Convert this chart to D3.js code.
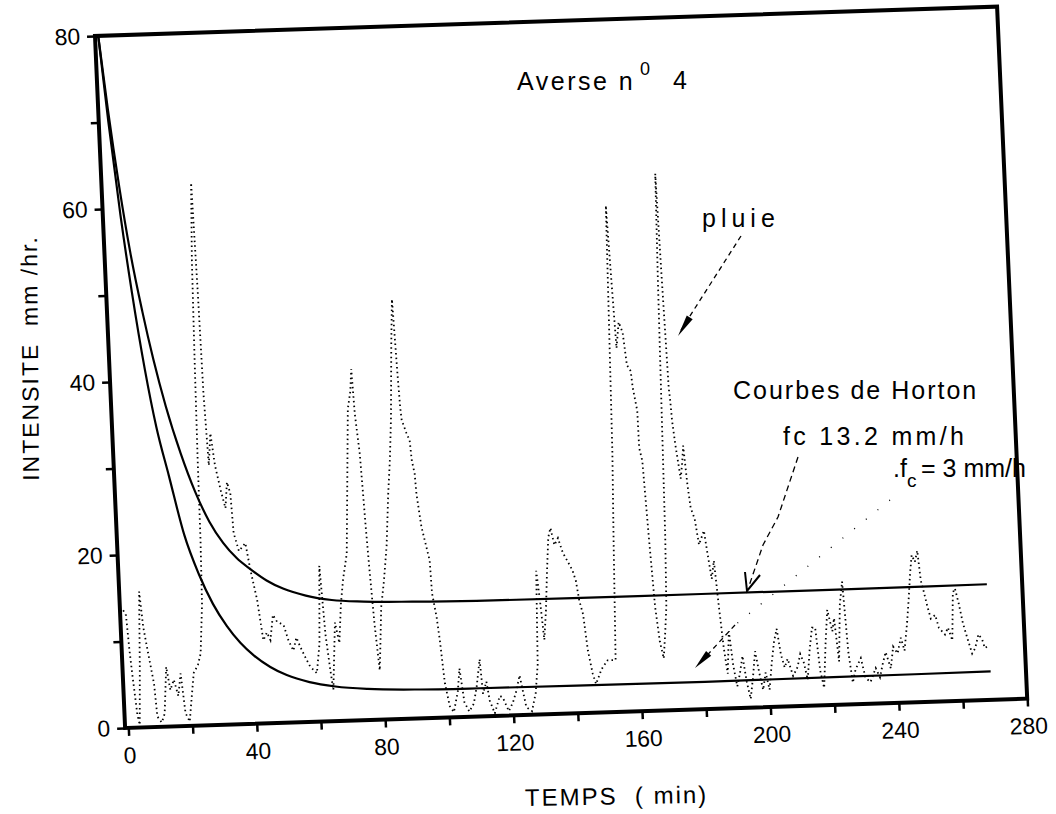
<!DOCTYPE html>
<html><head><meta charset="utf-8">
<script src="https://cdn.jsdelivr.net/npm/d3@7"></script>
<style>
html,body{margin:0;padding:0;background:#fff;}
svg{display:block;}
text{font-family:"Liberation Sans",Arial,sans-serif;fill:#000;}
</style></head><body>
<svg id="chart" width="1056" height="814"></svg>
<script>
// ---------- data ----------
const xTickValues = [0,20,40,60,80,100,120,140,160,180,200,220,240,260,280];
const xTickLabels = [0,40,80,120,160,200,240,280];
const yTickValues = [0,10,20,30,40,50,60,70,80];
const yTickLabels = [0,20,40,60,80];

// Horton infiltration curves (min, mm/h)
const hortonT     = [0,2,4.5,7,10,12.8,16,20,24,28,32,36,40,45,50,57,65,75,90,110,140,180,220,269];
const hortonUpper = [80,71.5,62.5,55,48,42.4,37,31.5,27,23.5,21,19.2,17.9,16.5,15.5,14.6,14.0,13.7,13.5,13.35,13.3,13.3,13.3,13.35];
const hortonLower = [80,70,59.2,50.3,41.3,34.6,29,22.1,17.5,14,11.4,9.4,7.9,6.5,5.5,4.6,4.0,3.6,3.35,3.25,3.2,3.15,3.2,3.27];

// rainfall intensity "pluie" (min, mm/h)
const rainT = [0,0.8,1.4,2.0,3.0,3.6,4.4,5.2,6.0,7.0,8.6,9.2,10.5,11.5,12.6,13.6,14.8,16.0,17.0,18.0,19.2,20.2,21.1,22.5,23.5,24.6,25.0,25.2,25.6,26.1,26.9,27.5,27.9,28.6,29.5,30.5,32.0,33.2,34.0,34.9,35.4,36.8,38.9,40.1,41.8,43.2,44.4,45.4,46.5,47.7,49.7,51.0,52.4,53.5,54.6,56.0,57.4,59.4,60.6,61.6,62.6,63.6,64.3,65.7,66.8,67.8,68.8,70.3,71.5,72.6,73.6,74.2,74.7,75.7,76.2,76.6,77.2,78.0,79.0,79.6,80.3,81.5,82.8,84.0,85.0,85.9,87.0,87.8,88.5,88.9,89.2,90.5,91.4,91.8,92.5,92.8,93.9,95.2,96.0,96.3,97.4,98.1,98.7,99.1,100.3,101.5,103.0,103.8,104.9,106.3,107.8,108.9,110.2,110.8,112.0,112.8,114.2,116.0,116.9,118.6,120.0,121.2,122.4,124.1,125.8,127.2,128.2,128.6,129.0,129.8,130.6,131.5,132.3,133.2,134.0,135.0,136.2,137.5,139.0,140.3,141.2,142.0,143.0,144.0,145.2,146.1,148.0,150.0,152.5,153.5,154.3,155.0,155.6,156.3,157.0,158.0,159.1,160.0,161.1,161.5,162.6,162.7,163.5,164.5,165.5,166.5,167.5,168.3,169.0,169.6,170.2,170.8,171.4,172.0,172.7,173.0,173.3,174.0,175.2,175.9,176.4,177.2,177.9,179.0,180.0,181.7,182.5,183.5,184.4,185.3,186.3,187.2,188.1,189.0,190.0,191.0,192.0,193.0,194.0,195.0,196.0,197.0,198.0,199.0,200.0,201.0,202.0,203.0,204.0,205.0,206.0,207.5,209.0,210.0,211.0,212.0,213.0,214.0,215.0,216.0,217.0,218.0,219.0,220.3,221.0,222.0,223.0,224.0,225.0,226.0,227.0,228.8,230.0,231.5,233.3,234.5,235.5,236.6,238.0,239.0,240.3,241.5,242.5,243.7,244.5,245.3,246.0,246.9,247.8,248.5,249.3,250.2,251.1,252.5,253.5,255.3,256.3,257.5,258.3,259.0,260.0,261.0,262.0,263.5,264.5,265.7,266.8,267.5,268.5];
const rainV = [13.6,13,9,6,1.5,0.3,7,15.7,11.6,9,5,1.2,0.5,1.5,6.9,4.2,5.4,3.5,6.1,1.5,0.5,3.5,6.1,7.0,8.3,14,21.4,30.7,42.2,53.8,62.7,50,38.3,30,33.7,30,27,25,28,26.7,22.1,20,20.9,17.8,14.3,9.6,10.5,9.6,12.5,11.7,11.3,9.5,8.3,9.8,8.7,7.5,6.4,5.6,9,18,10,6,3.6,11.4,9,13.5,16.3,19.3,28,36,38,40.6,35.4,30.8,26,22,17,11,5.7,9,13,16,20,26,30,34.8,43.4,48.5,40,36,34.5,33,32.1,29.8,28.3,25.9,22.1,19.7,18.2,14.4,11.6,8.9,5.8,3.9,1.3,0.6,3,5.6,1.7,0.6,1.5,3.4,6.6,2.6,4,1.8,0.3,2.3,2.1,0.5,1.5,2.8,4.6,0.9,0.4,2.5,5.8,11.2,16.6,13,8.6,12,16.2,20.4,21.5,19.5,20.3,18.6,17.5,16.5,15.3,13,11.4,7.2,4.5,3.3,5,6,6,20,30,45,58.5,50,42,45,43.8,40,39.3,37.4,34.7,30.4,28.9,20,12,8,6,9,12,20,35,50,62,50,37.2,35.7,33.4,30.6,26.7,28.6,30.5,26,23.3,22,19,20.6,18,15,17.1,12,7,4,8.9,5,2.5,4,6,3,1,3.5,6.5,4,2,4,2,5,7.5,9,6,4.5,5.5,3.5,4.5,6,5,3,6.5,9,9,4,2,7,11,8.5,10,5,11.6,14.2,6,2.5,4,5.3,3,2.5,4.1,3,4.5,5.9,4,6.5,5.7,7.5,6,9.3,12,15,17,16.2,17.5,14,12.7,11,9.6,10,8.5,7.7,8.5,7,12.5,13,11.2,9,7.5,5.4,6,7.6,7,6,6.2];

// ---------- layout ----------
const W = 904.8, H = 692;
const FONT = '"Liberation Sans", Arial, sans-serif';
const x = d3.scaleLinear().domain([-1, 280]).range([0, W]);
const y = d3.scaleLinear().domain([0, 80]).range([H, 0]);

const svg = d3.select('#chart');
svg.append('rect').attr('width', 1056).attr('height', 814).attr('fill', '#fff');

// the scanned figure is slightly rotated: map plot coords through an affine matrix
const g = svg.append('g').attr('transform', 'matrix(0.997,-0.0325,0.0435,1,95,36)');

// axes
const xAxis = d3.axisBottom(x).tickValues(xTickValues).tickSize(8).tickPadding(11)
  .tickFormat(d => xTickLabels.includes(d) ? d : '');
g.append('g').attr('transform', `translate(0,${H})`).call(xAxis)
  .call(s => s.select('.domain').remove())
  .call(s => s.selectAll('line').attr('stroke', '#000').attr('stroke-width', 2.5))
  .call(s => s.selectAll('text').attr('font-size', 23).attr('font-family', FONT).attr('fill', '#000'));

const yAxis = d3.axisLeft(y).tickValues(yTickValues).tickSize(8).tickPadding(7)
  .tickFormat(d => yTickLabels.includes(d) ? d : '');
g.append('g').call(yAxis)
  .call(s => s.select('.domain').remove())
  .call(s => s.selectAll('line').attr('stroke', '#000').attr('stroke-width', 2.5))
  .call(s => s.selectAll('text').attr('font-size', 23).attr('font-family', FONT).attr('fill', '#000'));

// frame
g.append('rect').attr('x', 0).attr('y', 0).attr('width', W).attr('height', H)
  .attr('fill', 'none').attr('stroke', '#000').attr('stroke-width', 4);

// rain
const rainLine = d3.line().x((d, i) => x(rainT[i])).y(d => y(d));
g.append('path').datum(rainV).attr('d', rainLine)
  .attr('fill', 'none').attr('stroke', '#000').attr('stroke-width', 1.8)
  .attr('stroke-dasharray', '1.5,3.2');

// Horton curves
const hLine = d3.line().x((d, i) => x(hortonT[i])).y(d => y(d)).curve(d3.curveMonotoneX);
[hortonUpper, hortonLower].forEach(arr => {
  g.append('path').datum(arr).attr('d', hLine)
    .attr('fill', 'none').attr('stroke', '#000').attr('stroke-width', 2.2);
});

// ---------- axis titles ----------
svg.append('text').attr('x', 525).attr('y', 806).attr('font-size', 24)
  .attr('letter-spacing', 2).style('white-space', 'pre')
  .attr('transform', 'rotate(-1,525,806)').text('TEMPS  ( min)');

svg.append('text').attr('x', 38).attr('y', 358).attr('font-size', 23)
  .attr('text-anchor', 'middle').attr('letter-spacing', 2).style('white-space', 'pre')
  .attr('transform', 'rotate(-90.5,38,358)').text('INTENSITE  mm /hr.');

// ---------- annotations ----------
const t1 = svg.append('text').attr('x', 517).attr('y', 90).attr('font-size', 25).attr('letter-spacing', 2.5);
t1.append('tspan').text('Averse n');
t1.append('tspan').attr('x', 640).attr('y', 75).attr('font-size', 18).text('0');
t1.append('tspan').attr('x', 673).attr('y', 89).text('4');

svg.append('text').attr('x', 702).attr('y', 227).attr('font-size', 25).attr('letter-spacing', 5).text('pluie');
svg.append('text').attr('x', 733).attr('y', 399).attr('font-size', 25).attr('letter-spacing', 2).text('Courbes de Horton');
svg.append('text').attr('x', 783).attr('y', 445).attr('font-size', 25).attr('letter-spacing', 3.3).text('fc 13.2 mm/h');
const t2 = svg.append('text').attr('x', 893).attr('y', 477).attr('font-size', 25);
t2.append('tspan').text('.f');
t2.append('tspan').attr('y', 487).attr('font-size', 19).text('c');
t2.append('tspan').attr('x', 921).attr('y', 477).style('white-space', 'pre').text('= 3 mm/h');

// leader arrows
const lead = svg.append('g').attr('fill', 'none').attr('stroke', '#000').attr('stroke-width', 1.3);
function head(tx, ty, fx, fy, len, half) {
  const dx = tx - fx, dy = ty - fy, L = Math.hypot(dx, dy), ux = dx / L, uy = dy / L;
  const bx = tx - ux * len, by = ty - uy * len;
  return `M${tx},${ty}L${bx - uy * half},${by + ux * half}L${bx + uy * half},${by - ux * half}Z`;
}
lead.append('path').attr('d', 'M741,236L681,330').attr('stroke-dasharray', '5,4');
svg.append('path').attr('d', head(678, 336, 741, 236, 22, 3.5)).attr('fill', '#000');

lead.append('path').attr('d', 'M798,457L778,517L763,545L749,586').attr('stroke-dasharray', '6,4');
lead.append('path').attr('d', 'M745,572L747,591L760,575').attr('stroke-width', 2);

lead.append('path').attr('d', 'M890,500L735,625').attr('stroke-dasharray', '1,14');
lead.append('path').attr('d', 'M735,625L699,664').attr('stroke-dasharray', '5,4');
svg.append('path').attr('d', head(695, 668, 735, 625, 20, 3.5)).attr('fill', '#000');
</script>
</body></html>
